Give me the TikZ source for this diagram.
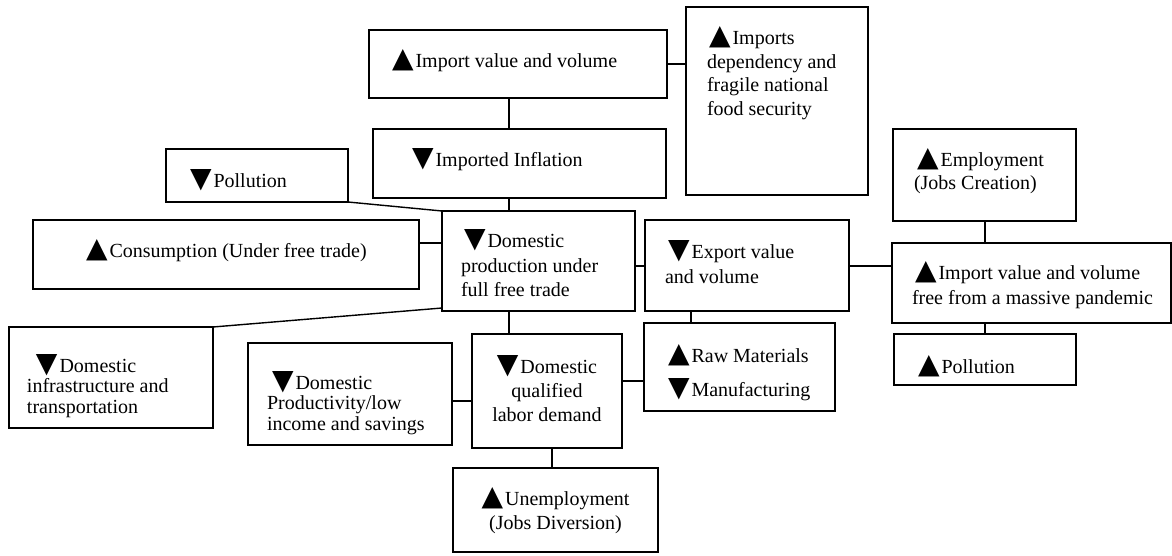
\documentclass[tikz,border=0pt]{standalone}
\usepackage{fontspec}
\setmainfont{Liberation Serif}
\newfontfamily\symf{DejaVu Sans}
\newcommand{\up}{{\symf\fontsize{28}{28}\selectfont ▲}\hspace{2pt}}
\newcommand{\dn}{{\symf\fontsize{28}{28}\selectfont ▼}\hspace{2pt}}
% #1 width, #2 height, #3 left pad, #4 first baseline, #5 baselineskip, #6 first indent, #7 text
\newcommand{\bxl}[7]{\parbox[c][#2pt][t]{#1pt}{\raggedright\leftskip=#3pt\relax\baselineskip=#5pt\relax\rule{0pt}{#4pt}\hspace*{#6pt}#7\par}}
\newcommand{\bxm}[5]{\parbox[c][#2pt][t]{#1pt}{\centering\baselineskip=#4pt\relax\rule{0pt}{#3pt}#5\par}}
\begin{document}
\begin{tikzpicture}[x=1pt,y=1pt,
  bx/.style={draw=black, line width=1.4pt, inner sep=0pt, outer sep=0pt, anchor=north west,
    font=\fontsize{20}{23}\selectfont},
  link/.style={draw=black, line width=1.4pt}]
\useasboundingbox (0,0) rectangle (1172,555);
\fill[white] (0,0) rectangle (1172,555);

\node[bx] (A) at (369,525) {\bxl{298}{68}{23}{38}{23}{0}{\up Import value and volume}};
\node[bx] (B) at (686,548) {\bxl{182}{188}{21}{38}{23.5}{2}{\up Imports\\dependency and\\fragile national\\food security}};
\node[bx] (C) at (373,426) {\bxl{293}{69}{39}{38}{23}{0}{\dn Imported Inflation}};
\node[bx] (D) at (166,406) {\bxl{182}{53}{24}{39}{23}{0}{\dn Pollution}};
\node[bx] (E) at (33,335) {\bxl{386}{69}{53}{38}{23}{0}{\up Consumption (Under free trade)}};
\node[bx] (F) at (442,344) {\bxl{193}{100}{19}{37}{24.5}{3}{\dn Domestic\\production under\\full free trade}};
\node[bx] (G) at (645,335) {\bxl{204}{91}{20}{39}{24}{3}{\dn Export value\\and volume}};
\node[bx] (H) at (893,426) {\bxl{183}{92}{21}{38}{23}{3}{\up Employment\\(Jobs Creation)}};
\node[bx] (I) at (892,312) {\bxl{279}{80}{20}{37}{25}{3}{\up Import value and volume\\free from a massive pandemic}};
\node[bx] (J) at (894,221) {\bxl{182}{51}{24}{39}{23}{0}{\up Pollution}};
\node[bx] (K) at (9,228) {\bxl{204}{101}{18}{45}{20.5}{9}{\dn Domestic\\infrastructure and\\transportation}};
\node[bx] (P) at (248,212) {\bxl{204}{102}{19}{46}{20.5}{5}{\dn Domestic\\Productivity/low\\income and savings}};
\node[bx] (L) at (472,221) {\bxm{150}{114}{39}{24}{\dn Domestic\\qualified\\labor demand}};
\node[bx] (R) at (644,232) {\bxl{191}{88}{24}{39}{34}{0}{\up Raw Materials\\\dn Manufacturing}};
\node[bx] (U) at (453,87) {\bxm{205}{84}{37}{24}{\up Unemployment\\(Jobs Diversion)}};

\draw[link] (A.east) -- (A.east -| B.west);
\draw[link] (A.south -| 509,0) -- (C.north -| 509,0);
\draw[link] (C.south -| 509,0) -- (F.north -| 509,0);
\draw[link] (D.south east) -- (F.north west);
\draw[link] (E.east |- 0,312) -- (F.west |- 0,312);
\draw[link] (K.north east) -- ([yshift=3pt]F.south west);
\draw[link] (F.east |- 0,289) -- (G.west |- 0,289);
\draw[link] (F.south -| 509,0) -- (L.north -| 509,0);
\draw[link] (G.south -| 691,0) -- (R.north -| 691,0);
\draw[link] (G.east |- 0,289) -- (I.west |- 0,289);
\draw[link] (H.south -| 985,0) -- (I.north -| 985,0);
\draw[link] (I.south -| 985,0) -- (J.north -| 985,0);
\draw[link] (P.east |- 0,154) -- (L.west |- 0,154);
\draw[link] (L.east |- 0,174) -- (R.west |- 0,174);
\draw[link] (L.south -| 552,0) -- (U.north -| 552,0);
\end{tikzpicture}
\end{document}
